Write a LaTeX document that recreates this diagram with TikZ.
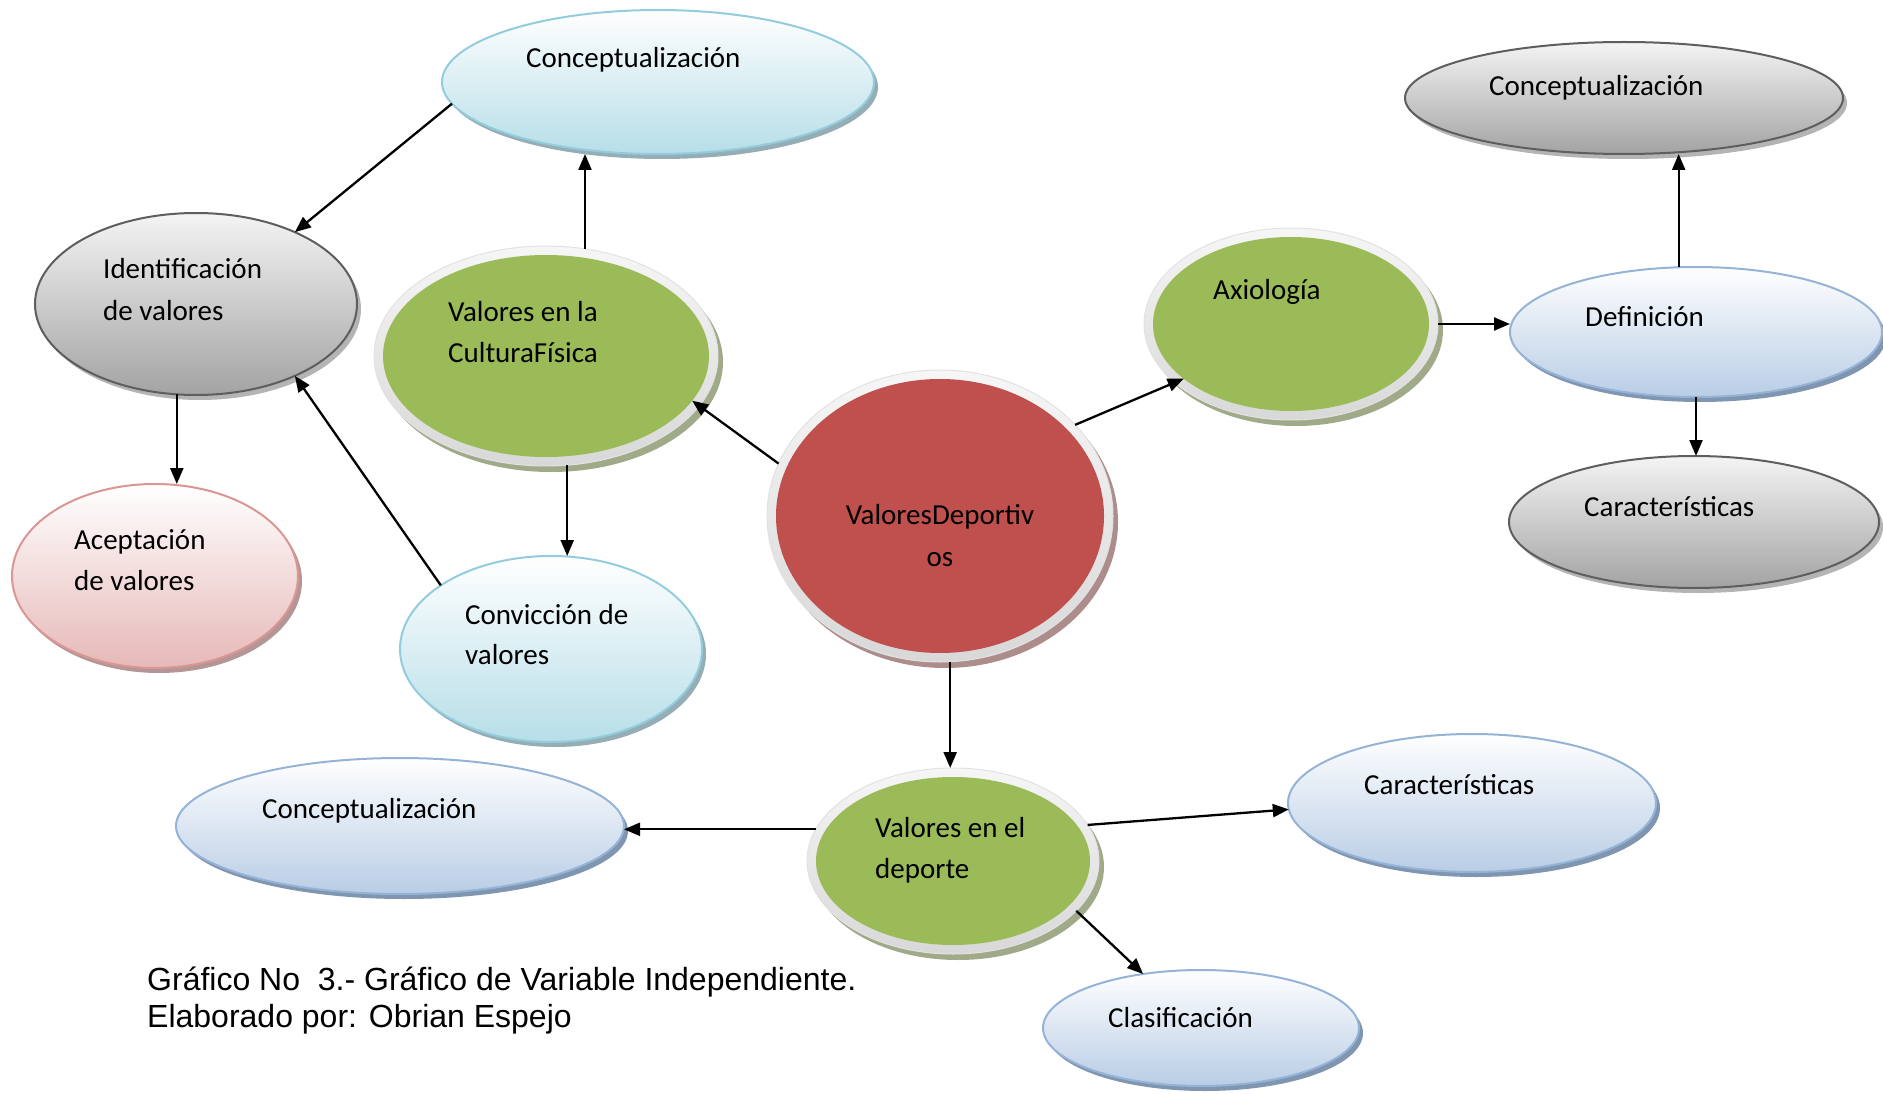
\documentclass[tikz,border=0pt]{standalone}
\usepackage{fontspec}
\setmainfont{Carlito}
\newfontfamily\capfont{Liberation Sans}
\usetikzlibrary{shapes.geometric,arrows.meta}

% palette
\definecolor{grayline}{HTML}{5E5E5E}
\definecolor{graytop}{HTML}{F4F4F4}
\definecolor{graybot}{HTML}{A3A3A3}
\definecolor{grayshadow}{HTML}{B4B4B4}
\definecolor{cyanline}{HTML}{93CDDD}
\definecolor{cyanbot}{HTML}{B7DEE8}
\definecolor{cyanshadow}{HTML}{95AEB5}
\definecolor{blueline}{HTML}{95B3D7}
\definecolor{bluebot}{HTML}{B9CDE5}
\definecolor{blueshadow}{HTML}{7F95B0}
\definecolor{pinkline}{HTML}{D99694}
\definecolor{pinkbot}{HTML}{E6B9B8}
\definecolor{pinkshadow}{HTML}{B59696}
\definecolor{greenfill}{HTML}{9BBB59}
\definecolor{greenshadow}{HTML}{A0AA88}
\definecolor{redfill}{HTML}{C0504D}
\definecolor{redshadow}{HTML}{AD8C8C}
\definecolor{ringfill}{HTML}{F0F0F0}
\definecolor{ringline}{HTML}{E2E2E2}

\tikzset{
  bub/.style={ellipse, inner sep=0pt, outer sep=0pt, line width=2pt},
  graybub/.style={bub, draw=grayline, top color=graytop, bottom color=graybot},
  cyanbub/.style={bub, draw=cyanline, top color=white, bottom color=cyanbot},
  bluebub/.style={bub, draw=blueline, top color=white, bottom color=bluebot},
  pinkbub/.style={bub, draw=pinkline, top color=white, bottom color=pinkbot},
  ringbub/.style={bub, draw=ringline, line width=1pt, top color=ringfill!60!white, bottom color=ringfill!90!black},
  lbl/.style={inner sep=0pt, anchor=base west, font=\fontsize{29}{35}\selectfont},
  captext/.style={inner sep=0pt, anchor=base west, font=\capfont\fontsize{32}{38}\selectfont},
  link/.style={line width=2.3pt, -{Triangle[length=16pt,width=13pt]}},
}

% plain bubble: name, x, y, x radius, y radius, colour family
\newcommand\bubble[6]{%
  \fill[color=#6shadow] (#2+4,#3+5) ellipse [x radius=#4pt, y radius=#5pt];
  \node[#6bub, minimum width=2*#4pt, minimum height=2*#5pt] (#1) at (#2,#3) {};
}
% bubble with a light ring round a solid core
\newcommand\ringbubble[6]{%
  \fill[color=#6shadow] (#2+5,#3+6) ellipse [x radius=#4pt, y radius=#5pt];
  \node[ringbub, minimum width=2*#4pt, minimum height=2*#5pt] (#1) at (#2,#3) {};
  \node[bub, fill=#6fill, minimum width=2*#4pt-18pt, minimum height=2*#5pt-18pt] (#1-in) at (#2,#3) {};
}

\begin{document}
\begin{tikzpicture}[x=1pt,y=-1pt]
\useasboundingbox (0,0) rectangle (1883,1094);

% bubbles
\bubble{c1}{658}{82}{216}{72}{cyan}
\bubble{ident}{196}{304}{161}{91}{gray}
\ringbubble{cult}{546}{356}{172}{110}{green}
\bubble{acep}{155}{576}{143}{92}{pink}
\bubble{conv}{551}{649}{151}{93}{cyan}
\ringbubble{vd}{940}{516}{173}{146}{red}
\ringbubble{ax}{1291}{324}{147}{96}{green}
\bubble{c2}{1624}{98}{219}{56}{gray}
\bubble{def}{1696}{332}{186}{65}{blue}
\bubble{car1}{1694}{522}{185}{66}{gray}
\bubble{c3}{400}{826}{224}{68}{blue}
\ringbubble{dep}{953}{861}{146}{93}{green}
\bubble{car2}{1472}{803}{184}{69}{blue}
\bubble{clas}{1201}{1028}{158}{58}{blue}

% labels
\node[lbl] (c1-t) at (526,68) {Conceptualización};
\node[lbl] (ident-t1) at (103,279) {Identificación};
\node[lbl] (ident-t2) at (103,320) {de valores};
\node[lbl] (cult-t1) at (448,321) {Valores en la};
\node[lbl] (cult-t2) at (448,362) {CulturaFísica};
\node[lbl] (acep-t1) at (74,549) {Aceptación};
\node[lbl] (acep-t2) at (74,590) {de valores};
\node[lbl] (conv-t1) at (465,624) {Convicción de};
\node[lbl] (conv-t2) at (465,664) {valores};
\node[lbl, anchor=base] (vd-t1) at (940,524) {ValoresDeportiv};
\node[lbl, anchor=base] (vd-t2) at (940,566) {os};
\node[lbl] (ax-t) at (1213,299) {Axiología};
\node[lbl] (c2-t) at (1489,96) {Conceptualización};
\node[lbl] (def-t) at (1585,326) {Definición};
\node[lbl] (car1-t) at (1584,516) {Características};
\node[lbl] (c3-t) at (262,818) {Conceptualización};
\node[lbl] (dep-t1) at (875,837) {Valores en el};
\node[lbl] (dep-t2) at (875,878) {deporte};
\node[lbl] (car2-t) at (1364,794) {Características};
\node[lbl] (clas-t) at (1108,1027) {Clasificación};

% caption
\node[captext] (cap1) at (147,990) {Gráfico No\ \ 3.- Gráfico de Variable Independiente.};
\node[captext] (cap2) at (147,1027) {Elaborado por: Obrian Espejo};

% connectors
\draw[link] (c1.186) -- (ident.36);
\draw[link] (cult.70) -- (cult.70 |- c1.south);
\draw[link] (ident.258) -- (ident.258 |- acep.north);
\draw[link] (conv.150) -- (ident.324);
\draw[link] (cult.281) -- (cult.281 |- conv.north);
\draw[link] (vd.162) -- (cult-in.343);
\draw[link] (vd.34) -- (ax-in.207);
\draw[link] (ax.east) -- (ax.east -| def.west);
\draw[link] (def.105) -- (def.105 |- c2.south);
\draw[link] (def.south) -- (def.south |- car1.north);
\draw[link] (vd.274) -- (vd.274 |- dep.north);
\draw[link] (dep.167) -- (dep.167 -| c3.east);
\draw[link] (dep.15) -- (car2.182);
\draw[link] (dep.338) -- (clas.137);
\end{tikzpicture}
\end{document}
